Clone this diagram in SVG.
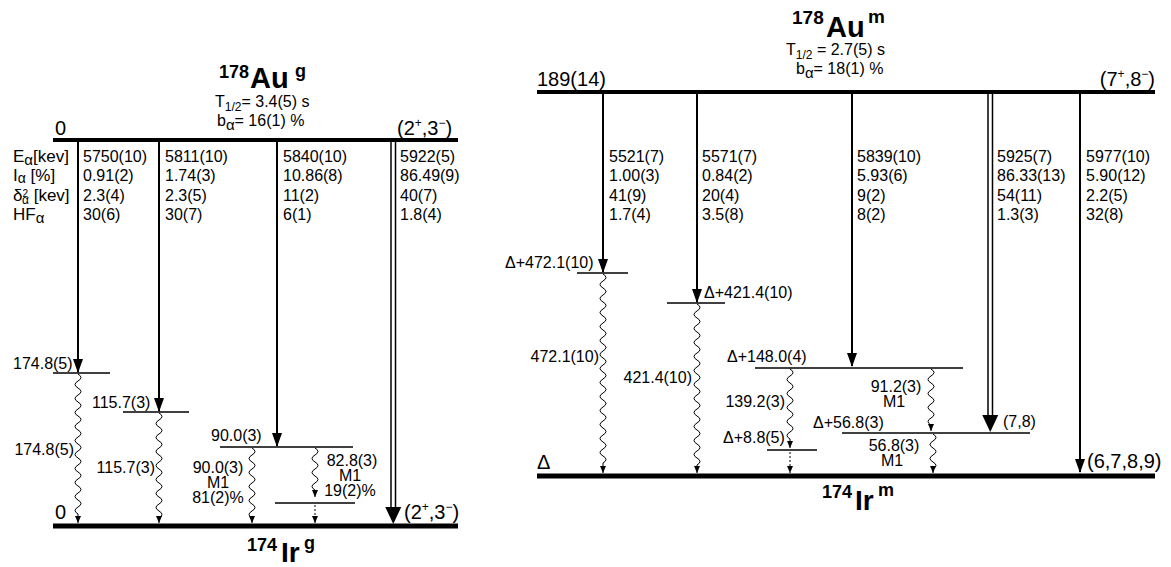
<svg xmlns="http://www.w3.org/2000/svg" width="1171" height="567" viewBox="0 0 1171 567">
<style>
text{font-family:"Liberation Sans",Arial,sans-serif;fill:#000}
.t{font-size:16px}
.lab{font-size:17px}
.b{font-weight:bold}
.sp{font-size:20px}
.lvl{stroke:#000;stroke-width:1.5}
.main{stroke:#000;stroke-width:5}
.top{stroke:#000;stroke-width:4}
.alpha{stroke:#000;stroke-width:2;marker-end:url(#ah)}
.dbl{stroke:#000;stroke-width:1.5}
.gam{fill:none;stroke:#000;stroke-width:1;marker-end:url(#gh)}
.dot{stroke:#000;stroke-width:1;stroke-dasharray:2,2;marker-end:url(#gh)}
.c{text-anchor:middle}
.r{text-anchor:end}
</style>
<defs>
<marker id="ah" markerUnits="userSpaceOnUse" markerWidth="14" markerHeight="10" refX="13" refY="5" orient="auto"><path d="M0,0 L14,5 L0,10 z" fill="#000"/></marker>
<marker id="gh" markerUnits="userSpaceOnUse" markerWidth="7" markerHeight="6" refX="7" refY="3" orient="auto"><path d="M0,0 L7,3 L0,6 z" fill="#000"/></marker>
<path id="bighead" d="M-8,-17 L8,-17 L0,0 z" fill="#000"/>
</defs>
<rect width="1171" height="567" fill="#fff"/>

<!-- LEFT PANEL -->
<g id="title-au178g">
<text class="b" x="219" y="78" font-size="18">178</text>
<text class="b" x="250" y="88" font-size="29">Au</text>
<text class="b" x="295" y="77" font-size="18">g</text>
<text class="t" x="215" y="107">T<tspan font-size="12" dy="4">1/2</tspan><tspan dy="-4">= 3.4(5) s</tspan></text>
<text class="t" x="217" y="126">b<tspan font-size="15" dy="4">α</tspan><tspan dy="-4">= 16(1) %</tspan></text>
</g>
<g id="level-au178g-0">
<line class="top" x1="53" y1="140" x2="458" y2="140"/>
<text class="sp" x="55" y="135">0</text>
<text class="sp" x="397" y="135">(2<tspan font-size="12" dy="-8">+</tspan><tspan dy="8">,3</tspan><tspan font-size="12" dy="-8">−</tspan><tspan dy="8">)</tspan></text>
</g>
<g id="table-left">
<text class="lab" x="13" y="162">E<tspan font-size="15" dy="3">α</tspan><tspan dy="-3">[kev]</tspan></text>
<text class="lab" x="13" y="181">I<tspan font-size="14" dy="2">α</tspan><tspan dy="-2"> [%]</tspan></text>
<text class="lab" x="13" y="201">δ<tspan font-size="10" dy="-4">2</tspan><tspan font-size="12" dx="-6" dy="7">α</tspan><tspan dy="-3"> [kev]</tspan></text>
<text class="lab" x="13" y="220">HF<tspan font-size="15" dy="3">α</tspan></text>
<text class="t" x="83" y="162">5750(10)</text>
<text class="t" x="83" y="181">0.91(2)</text>
<text class="t" x="83" y="201">2.3(4)</text>
<text class="t" x="83" y="220">30(6)</text>
<text class="t" x="165" y="162">5811(10)</text>
<text class="t" x="165" y="181">1.74(3)</text>
<text class="t" x="165" y="201">2.3(5)</text>
<text class="t" x="165" y="220">30(7)</text>
<text class="t" x="283" y="162">5840(10)</text>
<text class="t" x="283" y="181">10.86(8)</text>
<text class="t" x="283" y="201">11(2)</text>
<text class="t" x="283" y="220">6(1)</text>
<text class="t" x="400" y="162">5922(5)</text>
<text class="t" x="400" y="181">86.49(9)</text>
<text class="t" x="400" y="201">40(7)</text>
<text class="t" x="400" y="220">1.8(4)</text>
</g>
<g id="level-ir174g-174">
<line class="lvl" x1="53" y1="373" x2="110" y2="373"/>
<text class="t" x="13" y="369">174.8(5)</text>
</g>
<g id="level-ir174g-115">
<line class="lvl" x1="123" y1="412" x2="189" y2="412"/>
<text class="t" x="92" y="408">115.7(3)</text>
</g>
<g id="level-ir174g-90">
<line class="lvl" x1="220" y1="447" x2="353" y2="447"/>
<text class="t" x="211" y="441">90.0(3)</text>
</g>
<g id="level-ir174g-7">
<line class="lvl" x1="275" y1="503" x2="355" y2="503"/>
</g>
<g id="level-ir174g-0">
<line class="main" x1="53" y1="526" x2="458" y2="526"/>
<text class="sp" x="55" y="519">0</text>
<text class="sp" x="404" y="519">(2<tspan font-size="12" dy="-8">+</tspan><tspan dy="8">,3</tspan><tspan font-size="12" dy="-8">−</tspan><tspan dy="8">)</tspan></text>
<text class="b" x="247" y="551" font-size="18">174</text>
<text class="b" x="281" y="562" font-size="28">Ir</text>
<text class="b" x="304" y="549" font-size="18">g</text>
</g>

<!-- RIGHT PANEL -->
<g id="title-au178m">
<text class="b" x="792" y="24" font-size="19">178</text>
<text class="b" x="826" y="37" font-size="29">Au</text>
<text class="b" x="868" y="23" font-size="19">m</text>
<text class="t" x="786" y="55" font-size="17">T<tspan font-size="12" dy="4">1/2</tspan><tspan dy="-4"> = 2.7(5) s</tspan></text>
<text class="t" x="796" y="74">b<tspan font-size="15" dy="4">α</tspan><tspan dy="-4">= 18(1) %</tspan></text>
</g>
<g id="level-au178m-189">
<line class="top" x1="537" y1="92" x2="1155" y2="92"/>
<text class="sp" x="537" y="86" font-size="19">189(14)</text>
<text class="sp r" x="1155" y="86">(7<tspan font-size="12" dy="-8">+</tspan><tspan dy="8">,8</tspan><tspan font-size="12" dy="-8">−</tspan><tspan dy="8">)</tspan></text>
</g>
<g id="table-right">
<text class="t" x="609" y="162">5521(7)</text>
<text class="t" x="609" y="181">1.00(3)</text>
<text class="t" x="609" y="201">41(9)</text>
<text class="t" x="609" y="220">1.7(4)</text>
<text class="t" x="702" y="162">5571(7)</text>
<text class="t" x="702" y="181">0.84(2)</text>
<text class="t" x="702" y="201">20(4)</text>
<text class="t" x="702" y="220">3.5(8)</text>
<text class="t" x="857" y="162">5839(10)</text>
<text class="t" x="857" y="181">5.93(6)</text>
<text class="t" x="857" y="201">9(2)</text>
<text class="t" x="857" y="220">8(2)</text>
<text class="t" x="997" y="162">5925(7)</text>
<text class="t" x="997" y="181">86.33(13)</text>
<text class="t" x="997" y="201">54(11)</text>
<text class="t" x="997" y="220">1.3(3)</text>
<text class="t" x="1086" y="162">5977(10)</text>
<text class="t" x="1086" y="181">5.90(12)</text>
<text class="t" x="1086" y="201">2.2(5)</text>
<text class="t" x="1086" y="220">32(8)</text>
</g>
<g id="level-ir174m-472">
<line class="lvl" x1="577" y1="273" x2="628" y2="273"/>
<text class="t" x="505" y="268">Δ+472.1(10)</text>
</g>
<g id="level-ir174m-421">
<line class="lvl" x1="667" y1="303" x2="725" y2="303"/>
<text class="t" x="704" y="298">Δ+421.4(10)</text>
</g>
<g id="level-ir174m-148">
<line class="lvl" x1="755" y1="368" x2="963" y2="368"/>
<text class="t" x="727" y="362">Δ+148.0(4)</text>
</g>
<g id="level-ir174m-56">
<line class="lvl" x1="842" y1="433" x2="1030" y2="433"/>
<text class="t" x="813" y="428">Δ+56.8(3)</text>
<text class="t" x="1003" y="427">(7,8)</text>
</g>
<g id="level-ir174m-8">
<line class="lvl" x1="767" y1="450" x2="817" y2="450"/>
<text class="t" x="723" y="443">Δ+8.8(5)</text>
</g>
<g id="level-ir174m-0">
<line class="main" x1="537" y1="476" x2="1155" y2="476"/>
<text class="sp" x="537" y="469">Δ</text>
<text class="sp" x="1087" y="468">(6,7,8,9)</text>
<text class="b" x="822" y="498" font-size="18">174</text>
<text class="b" x="855" y="510" font-size="28">Ir</text>
<text class="b" x="878" y="496" font-size="18">m</text>
</g>

<g id="connectors">
<!-- left alpha -->
<line class="alpha" x1="78" y1="142" x2="78" y2="372"/>
<line class="alpha" x1="159" y1="142" x2="159" y2="411"/>
<line class="alpha" x1="277" y1="142" x2="277" y2="446"/>
<line class="dbl" x1="391" y1="142" x2="391" y2="510"/>
<line class="dbl" x1="395.5" y1="142" x2="395.5" y2="510"/>
<use href="#bighead" x="393.25" y="524"/>
<!-- left gamma -->
<path class="gam" d="M78,374 q6,3.5 0,7 t0,7 t0,7 t0,7 t0,7 t0,7 t0,7 t0,7 t0,7 t0,7 t0,7 t0,7 t0,7 t0,7 t0,7 t0,7 t0,7 t0,7 t0,7 t0,7 V523"/>
<path class="gam" d="M159,413 q6,3.5 0,7 t0,7 t0,7 t0,7 t0,7 t0,7 t0,7 t0,7 t0,7 t0,7 t0,7 t0,7 t0,7 t0,7 t0,7 V523"/>
<path class="gam" d="M252,448 q6,3.5 0,7 t0,7 t0,7 t0,7 t0,7 t0,7 t0,7 t0,7 t0,7 t0,7 V523"/>
<path class="gam" d="M315,448 q6,3.5 0,7 t0,7 t0,7 t0,7 t0,7 t0,7 V497"/>
<line class="dot" x1="315" y1="505" x2="315" y2="523"/>
<text class="t r" x="74" y="455">174.8(5)</text>
<text class="t r" x="155" y="473">115.7(3)</text>
<text class="t c" x="218" y="473">90.0(3)</text>
<text class="t c" x="218" y="488">M1</text>
<text class="t c" x="218" y="503">81(2)%</text>
<text class="t c" x="352" y="466">82.8(3)</text>
<text class="t c" x="350" y="481">M1</text>
<text class="t c" x="350" y="496">19(2)%</text>
<!-- right alpha -->
<line class="alpha" x1="603" y1="94" x2="603" y2="272"/>
<line class="alpha" x1="697" y1="94" x2="697" y2="302"/>
<line class="alpha" x1="852" y1="94" x2="852" y2="366"/>
<line class="dbl" x1="988" y1="94" x2="988" y2="418"/>
<line class="dbl" x1="992.5" y1="94" x2="992.5" y2="418"/>
<use href="#bighead" x="990.25" y="432"/>
<line class="alpha" x1="1080" y1="94" x2="1080" y2="472"/>
<!-- right gamma -->
<path class="gam" d="M603,274 q6,3.5 0,7 t0,7 t0,7 t0,7 t0,7 t0,7 t0,7 t0,7 t0,7 t0,7 t0,7 t0,7 t0,7 t0,7 t0,7 t0,7 t0,7 t0,7 t0,7 t0,7 t0,7 t0,7 t0,7 t0,7 t0,7 t0,7 t0,7 V473"/>
<path class="gam" d="M697,304 q6,3.5 0,7 t0,7 t0,7 t0,7 t0,7 t0,7 t0,7 t0,7 t0,7 t0,7 t0,7 t0,7 t0,7 t0,7 t0,7 t0,7 t0,7 t0,7 t0,7 t0,7 t0,7 t0,7 t0,7 V473"/>
<path class="gam" d="M790,369 q6,3.5 0,7 t0,7 t0,7 t0,7 t0,7 t0,7 t0,7 t0,7 t0,7 t0,7 V448"/>
<line class="dot" x1="790" y1="452" x2="790" y2="473"/>
<path class="gam" d="M931,369 q6,3.5 0,7 t0,7 t0,7 t0,7 t0,7 t0,7 t0,7 t0,7 V431"/>
<path class="gam" d="M933,434 q6,3.5 0,7 t0,7 t0,7 t0,7 t0,7 V473"/>
<text class="t r" x="599" y="362">472.1(10)</text>
<text class="t r" x="692" y="383">421.4(10)</text>
<text class="t r" x="785" y="407">139.2(3)</text>
<text class="t c" x="896" y="392">91.2(3)</text>
<text class="t c" x="894" y="407">M1</text>
<text class="t c" x="894" y="451">56.8(3)</text>
<text class="t c" x="892" y="466">M1</text>
</g>
</svg>
